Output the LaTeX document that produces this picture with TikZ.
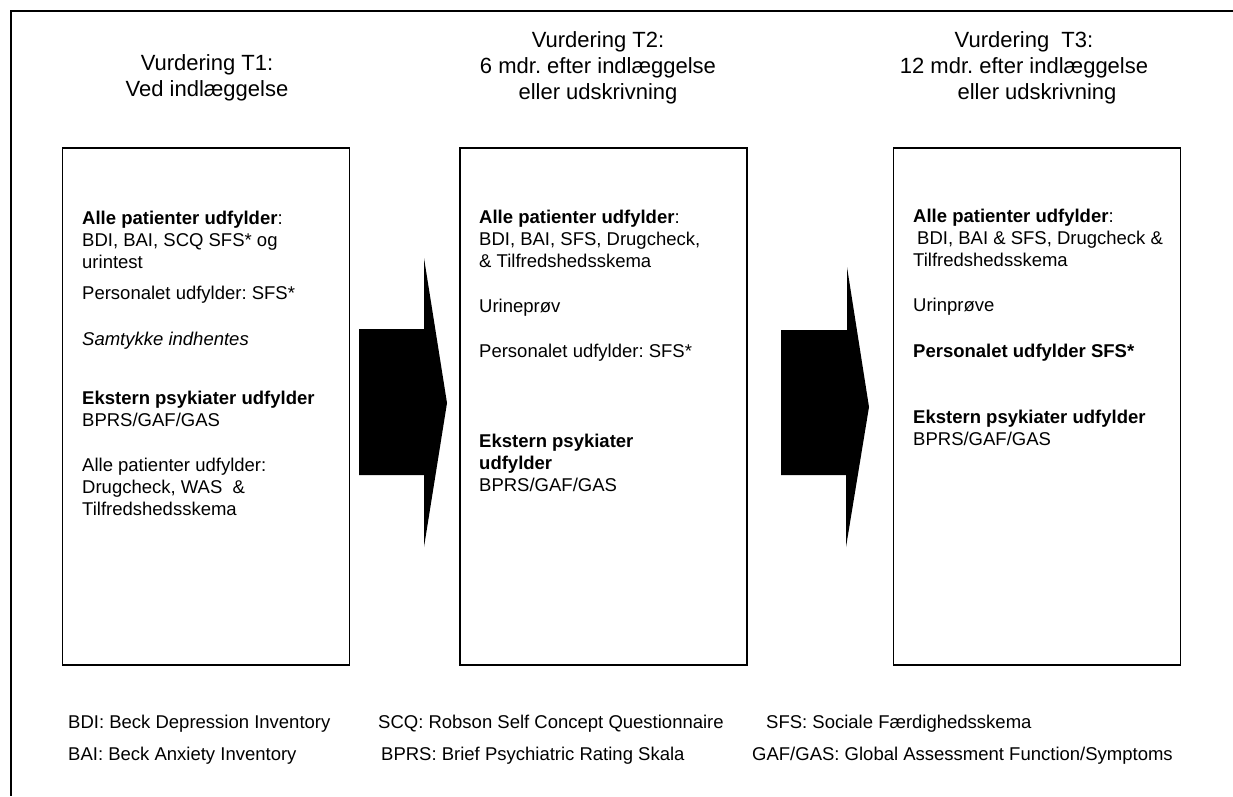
\documentclass[tikz,border=0pt]{standalone}
\usepackage{fontspec}
\setmainfont{Liberation Sans}
\frenchspacing
\tikzset{
  stage/.style={draw, line width=1.5pt, minimum width=287pt, minimum height=517pt, inner sep=0pt},
  boxtxt/.style={anchor=north west, inner sep=0pt, align=left, font=\fontsize{18.5}{22}\selectfont},
  hdr/.style={anchor=north, inner sep=0pt, align=center, font=\fontsize{22}{26}\selectfont},
  key/.style={anchor=base west, inner sep=0pt, font=\fontsize{18.5}{22}\selectfont},
  blockarrow/.style={fill=black, draw=none}
}
\begin{document}
\begin{tikzpicture}[x=1pt, y=-1pt]
            \useasboundingbox (0, 0) rectangle (1233, 796);
            %\draw[help lines] (0, 0) grid[step=100] (1233, 796);
            \draw[line width=1.4pt] (1233, 11) -- (11, 11) -- (11, 796);
            % headings
            \node[hdr] (h1) at (207, 51.8) {\strut Vurdering T1:\\Ved indlæggelse};
            \node[hdr] (h2) at (598, 28.8) {\strut Vurdering T2:\\6 mdr. efter indlæggelse\\eller udskrivning};
            \node[hdr] (h3) at (1024, 28.8) {\strut Vurdering\ \ T3:\\12 mdr. efter indlæggelse\\\hspace*{26pt}eller udskrivning};
            % the three boxes
            \node[stage] (box1) at (206, 406.5) {};
            \node[stage] (box2) at (603.5, 406.5) {};
            \node[stage] (box3) at (1037, 406.5) {};
            % T1
            \node[boxtxt] (t1a) at (82, 209) {\strut\textbf{Alle patienter udfylder}:\\BDI, BAI, SCQ SFS* og\\urintest};
            \node[boxtxt] (t1b) at (82, 284) {\strut Personalet udfylder: SFS*};
            \node[boxtxt] (t1c) at (82, 330) {\strut\textit{Samtykke indhentes}};
            \node[boxtxt] (t1d) at (82, 389) {\strut\textbf{Ekstern psykiater udfylder}\\BPRS/GAF/GAS};
            \node[boxtxt] (t1e) at (82, 456) {\strut Alle patienter udfylder:\\Drugcheck, WAS\ \ \&\\Tilfredshedsskema};
            % T2
            \node[boxtxt] (t2a) at (479, 208) {\strut\textbf{Alle patienter udfylder}:\\BDI, BAI, SFS, Drugcheck,\\\& Tilfredshedsskema};
            \node[boxtxt] (t2b) at (479, 297) {\strut Urineprøv};
            \node[boxtxt] (t2c) at (479, 342) {\strut Personalet udfylder: SFS*};
            \node[boxtxt] (t2d) at (479, 432) {\strut\textbf{Ekstern psykiater}\\\textbf{udfylder}\\BPRS/GAF/GAS};
            % T3
            \node[boxtxt] (t3a) at (913, 207) {\strut\textbf{Alle patienter udfylder}:\\\hspace*{4pt}BDI, BAI \& SFS, Drugcheck \&\\Tilfredshedsskema};
            \node[boxtxt] (t3b) at (913, 296) {\strut Urinprøve};
            \node[boxtxt] (t3c) at (913, 342) {\strut\textbf{Personalet udfylder SFS*}};
            \node[boxtxt] (t3d) at (913, 408) {\strut\textbf{Ekstern psykiater udfylder}\\BPRS/GAF/GAS};
            % arrows between the boxes
            \fill[blockarrow] (359, 329) -- (424, 329) -- (424, 258) -- (447, 403)
                -- (424, 547) -- (424, 475) -- (359, 475) -- cycle;
            \fill[blockarrow] (781, 330) -- (847, 330) -- (847, 267) -- (869, 407)
                -- (846, 547) -- (846, 475) -- (781, 475) -- cycle;
            % abbreviations
            \node[key] (k1) at (68, 728) {BDI: Beck Depression Inventory};
            \node[key] (k2) at (378, 728) {SCQ: Robson Self Concept Questionnaire};
            \node[key] (k3) at (766, 728) {SFS: Sociale Færdighedsskema};
            \node[key] (k4) at (68, 760) {BAI: Beck Anxiety Inventory};
            \node[key] (k5) at (381, 760) {BPRS: Brief Psychiatric Rating Skala};
            \node[key] (k6) at (752, 760) {GAF/GAS: Global Assessment Function/Symptoms};
\end{tikzpicture}
\end{document}
